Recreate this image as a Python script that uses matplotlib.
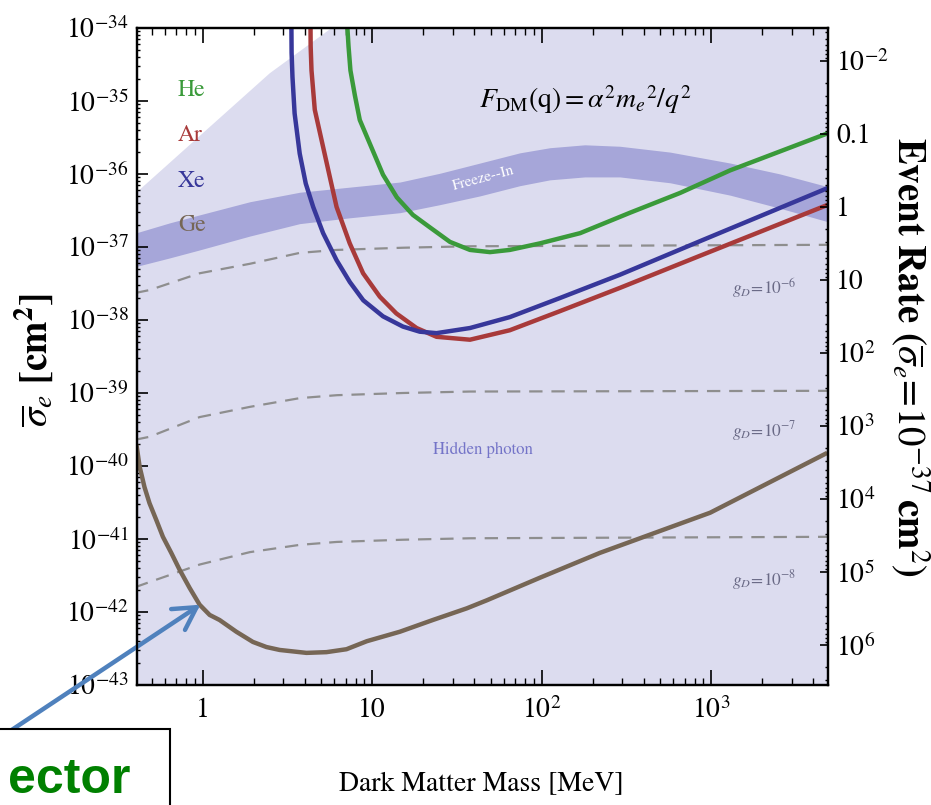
import numpy as np
import matplotlib
matplotlib.use("Agg")
import matplotlib.pyplot as plt
from matplotlib.patches import Rectangle
from matplotlib.ticker import LogLocator, NullFormatter

plt.rcParams['font.family'] = ['STIXGeneral', 'DejaVu Sans']
plt.rcParams['mathtext.fontset'] = 'stix'

# ---------------- data (log10 of cross-section in cm^2) ----------------
# Hidden-photon allowed region upper boundary
hp_mass = [0.40, 0.96, 2.49, 3.74, 5.85, 8.45, 5000]
hp_logsig = [-36.27, -35.48, -34.62, -34.32, -33.99, -33.75, -33.0]

# Freeze-in band
fi_mass = [0.40, 0.638, 0.96, 1.90, 3.74, 7.38, 14.6, 25.1, 43.3, 74.5, 112, 180, 290, 573, 1297, 2560, 5000]
fi_top = [-36.81, -36.67, -36.56, -36.38, -36.25, -36.18, -36.11, -35.99, -35.85, -35.71, -35.64,
          -35.60, -35.62, -35.70, -35.85, -36.00, -36.18]
fi_bot = [-37.27, -37.15, -37.04, -36.85, -36.68, -36.60, -36.53, -36.42, -36.30, -36.16, -36.08,
          -36.04, -36.04, -36.12, -36.29, -36.47, -36.66]

# Dashed g_D lines
gd_mass = [0.40, 0.486, 0.96, 1.90, 3.75, 6.2, 15.2, 37.9, 5000]
gd6_logsig = [-37.63, -37.59, -37.36, -37.23, -37.08, -37.04, -37.01, -36.99, -36.97]
gd7_logsig = [-39.64, -39.60, -39.33, -39.19, -39.07, -39.03, -39.00, -38.98, -38.97]
gd8_logsig = [-41.66, -41.59, -41.35, -41.18, -41.08, -41.04, -41.01, -40.99, -40.97]

# Detector curves
xe_mass = [3.34, 3.35, 3.39, 3.49, 3.74, 4.06, 4.49, 5.14, 6.17, 7.39, 8.87, 11.6, 15.2, 19.1, 24.0,
           37.8, 65.0, 128, 290, 861, 4910]
xe_logsig = [-33.93, -34.34, -34.67, -35.17, -35.72, -36.13, -36.45, -36.81, -37.18, -37.48, -37.73,
             -37.95, -38.09, -38.16, -38.18, -38.11, -37.96, -37.70, -37.38, -36.92, -36.19]

ar_mass = [4.33, 4.34, 4.39, 4.59, 5.14, 5.63, 6.17, 7.38, 8.85, 11.1, 13.9, 18.3, 24.0, 37.8, 65.0,
           128, 290, 861, 4910]
ar_logsig = [-33.93, -34.25, -34.58, -35.12, -35.63, -36.04, -36.45, -36.95, -37.36, -37.68, -37.91,
             -38.11, -38.23, -38.27, -38.14, -37.88, -37.56, -37.12, -36.42]

he_mass = [7.12, 7.26, 7.45, 7.91, 8.46, 9.68, 11.6, 14.0, 17.4, 21.9, 28.8, 37.8, 49.6, 65.0, 97.9,
           169, 333, 656, 1297, 4910]
he_logsig = [-33.93, -34.25, -34.58, -34.92, -35.26, -35.58, -36.01, -36.32, -36.56, -36.73, -36.93,
             -37.04, -37.07, -37.04, -36.95, -36.81, -36.53, -36.26, -35.95, -35.44]

ge_mass = [0.407, 0.425, 0.454, 0.486, 0.533, 0.583, 0.653, 0.731, 0.838, 0.960, 1.10, 1.26, 1.58,
           1.98, 2.38, 2.85, 4.10, 5.38, 7.06, 9.31, 14.6, 22.8, 36.2, 47.5, 97.9, 221, 988, 4850]
ge_logsig = [-39.71, -40.01, -40.29, -40.51, -40.74, -40.97, -41.19, -41.42, -41.67, -41.90, -42.04,
             -42.11, -42.27, -42.41, -42.48, -42.52, -42.56, -42.55, -42.51, -42.40, -42.27, -42.11,
             -41.95, -41.84, -41.53, -41.19, -40.64, -39.82]

# Ticks
x_ticks = [1, 10, 100, 1000]
x_labels = ["1", "10", r"$10^{2}$", r"$10^{3}$"]
y_exps = list(range(-34, -44, -1))
y_labels = [r"$10^{%d}$" % e for e in y_exps]
rate_ticks = [1e-2, 1e-1, 1, 10, 1e2, 1e3, 1e4, 1e5, 1e6]
rate_labels = [r"$10^{-2}$", "0.1", "1", "10", r"$10^{2}$", r"$10^{3}$", r"$10^{4}$", r"$10^{5}$", r"$10^{6}$"]
rate_ref_logsig = -36.45  # cross-section corresponding to event rate 1

# ---------------- colours ----------------
c_light = '#dcdcef'
c_band = '#a6a6d9'
c_he = '#3a9a3a'
c_ar = '#a83a3a'
c_xe = '#37379a'
c_ge = '#766655'
c_dash = '#8e8e8e'

W, H = 931, 805
fig = plt.figure(figsize=(W / 100, H / 100), dpi=100)
L, R, T, B = 137, 828, 28, 685
ax = fig.add_axes([L / W, 1 - B / H, (R - L) / W, (B - T) / H])
ax.set_xscale('log')
ax.set_yscale('log')
ax.set_xlim(0.41, 4900)
ax.set_ylim(1e-43, 1e-34)
ax.set_facecolor('white')


def pw(v):
    return 10.0 ** np.asarray(v, dtype=float)


ax.fill_between(hp_mass, 1e-45, pw(hp_logsig), color=c_light, lw=0, zorder=0.5)
ax.fill_between(fi_mass, pw(fi_bot), pw(fi_top), color=c_band, lw=0, zorder=1)

for arr in (gd6_logsig, gd7_logsig, gd8_logsig):
    ax.plot(gd_mass, pw(arr), color=c_dash, lw=1.6, dashes=(6, 4), zorder=2)

for m, s, c in ((he_mass, he_logsig, c_he), (ar_mass, ar_logsig, c_ar),
                (xe_mass, xe_logsig, c_xe), (ge_mass, ge_logsig, c_ge)):
    ax.plot(m, pw(s), color=c, lw=3.2, zorder=3, solid_capstyle='butt', solid_joinstyle='round')


def afx(px, py):
    return ((px - L) / (R - L), 1 - (py - T) / (B - T))


# Legend-like labels
for name, col, py in (("He", c_he, 90), ("Ar", c_ar, 135), ("Xe", c_xe, 181), ("Ge", c_ge, 225)):
    ax.text(*afx(178, py), name, color=col, fontsize=17, ha='left', va='center',
            transform=ax.transAxes, zorder=5)

ax.text(*afx(585, 100), r"$F_{\mathrm{DM}}(\mathrm{q}) = \alpha^2 {m_e}^2/q^2$", fontsize=20,
        ha='center', va='center', transform=ax.transAxes, zorder=5)

ax.text(*afx(483, 178), "Freeze--In", color='white', fontsize=11, rotation=15,
        ha='center', va='center', transform=ax.transAxes, zorder=5)
ax.text(*afx(483, 450), "Hidden photon", color='#7474c8', fontsize=12,
        ha='center', va='center', transform=ax.transAxes, zorder=5)
for lab, py in ((r"$g_D\!=\!10^{-6}$", 288), (r"$g_D\!=\!10^{-7}$", 431), (r"$g_D\!=\!10^{-8}$", 580)):
    ax.text(*afx(764, py), lab, color='#6a6a86', fontsize=12.5, ha='center', va='center',
            transform=ax.transAxes, zorder=5)

# Axes ticks
ax.set_xticks(x_ticks, x_labels)
ax.set_yticks([10.0 ** e for e in y_exps], y_labels)
ax.xaxis.set_minor_locator(LogLocator(base=10, subs=np.arange(2, 10), numticks=30))
ax.xaxis.set_minor_formatter(NullFormatter())
ax.yaxis.set_minor_locator(LogLocator(base=10, subs=np.arange(2, 10), numticks=30))
ax.yaxis.set_minor_formatter(NullFormatter())

ax2 = ax.twinx()
ax2.set_yscale('log')
K = 10.0 ** rate_ref_logsig
ax2.set_ylim(K / 1e-43, K / 1e-34)
ax2.set_yticks(rate_ticks, rate_labels)
ax2.yaxis.set_minor_locator(LogLocator(base=10, subs=np.arange(2, 10), numticks=30))
ax2.yaxis.set_minor_formatter(NullFormatter())

ax.tick_params(axis='x', which='both', direction='in', top=True, bottom=True)
ax.tick_params(axis='x', which='major', length=11, width=1.2, pad=9, labelsize=20)
ax.tick_params(axis='x', which='minor', length=5, width=1.0)
ax.tick_params(axis='y', which='both', direction='in', left=True, right=False)
ax.tick_params(axis='y', which='major', length=8, width=1.2, pad=6, labelsize=20)
ax.tick_params(axis='y', which='minor', length=2.5, width=1.0)
ax2.tick_params(axis='y', which='both', direction='in', right=True, left=False)
ax2.tick_params(axis='y', which='major', length=6, width=1.2, pad=6, labelsize=20)
ax2.tick_params(axis='y', which='minor', length=2.5, width=1.0)

for a in (ax, ax2):
    for sp in a.spines.values():
        sp.set_linewidth(1.6)
        sp.set_zorder(10)

# Axis labels
fig.text(481 / W, 1 - 785 / H, "Dark Matter Mass [MeV]", fontsize=20, ha='center', va='center')
fig.text(34 / W, 1 - 360 / H, r"$\overline{\sigma}_e$ [cm$^{\mathbf{2}}$]", fontsize=28,
         fontweight='bold', rotation=90, ha='center', va='center')
fig.text(910 / W, 1 - 357 / H, r"Event Rate ($\overline{\sigma}_e\!=\!10^{-37}\,$cm$^{2}$)",
         fontsize=28, fontweight='bold', rotation=270, ha='center', va='center')

# Overlay: box + arrow
fig.add_artist(Rectangle((-5 / W, -5 / H), 175 / W, (805 - 729 + 5) / H, transform=fig.transFigure,
                         facecolor='white', edgecolor='black', lw=1.5, zorder=20))
fig.text(130 / W, 1 - 803 / H, "ector", fontsize=36, fontweight='bold', color='#008000',
         family='Liberation Sans', ha='right', va='bottom', zorder=21)
ax.annotate('', xy=(0.97, 10 ** -41.9), xycoords='data',
            xytext=(-20, H - 751), textcoords='figure pixels',
            arrowprops=dict(arrowstyle='->,head_length=0.8,head_width=0.45', color='#4f81bd',
                            lw=3.2, mutation_scale=20, shrinkA=0, shrinkB=0),
            annotation_clip=False, zorder=22)

fig.savefig('out.png', dpi=100)
